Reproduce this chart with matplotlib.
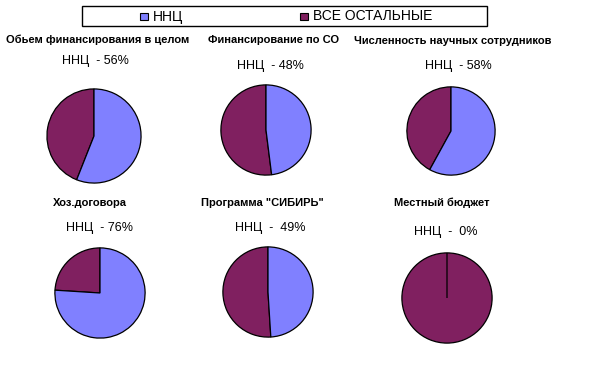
import matplotlib
matplotlib.use("Agg")
import matplotlib.pyplot as plt
from matplotlib.patches import Rectangle

plt.rcParams['font.family'] = ['Liberation Sans', 'DejaVu Sans']

titles = ["Обьем финансирования в целом", "Финансирование по СО",
          "Численность научных сотрудников", "Хоз.договора",
          "Программа \"СИБИРЬ\"", "Местный бюджет"]
nnc_share = [56, 48, 58, 76, 49, 0]
labels = ["ННЦ  - 56%", "ННЦ  - 48%", "ННЦ  - 58%", "ННЦ  - 76%",
          "ННЦ  -  49%", "ННЦ  -  0%"]
legend_names = ["ННЦ", "ВСЕ ОСТАЛЬНЫЕ"]
colors = ["#8080FF", "#802060"]

W, H = 600, 386
fig = plt.figure(figsize=(6, 3.86), dpi=100)
fig.patch.set_facecolor("white")

# layout in pixel coords (x center, y center from top, radius)
pies = [(94, 136, 48), (266, 130, 46), (451, 131, 45),
        (100, 293, 46), (268, 292, 46), (447, 298, 46)]
title_pos = [(98, 40), (274, 40), (453, 41), (90, 203), (262, 203), (442, 203)]
label_pos = [(95, 61), (270, 66), (458, 66), (100, 228), (270, 228), (446, 232)]

for i in range(6):
    cx, cy, r = pies[i]
    ax = fig.add_axes([(cx - r) / W, 1 - (cy + r) / H, 2 * r / W, 2 * r / H])
    wedges, _ = ax.pie([nnc_share[i], 100 - nnc_share[i]], colors=colors,
                       startangle=90, counterclock=False, radius=1,
                       wedgeprops=dict(edgecolor="black", linewidth=0.9))
    wedges[0].set_zorder(3)
    ax.set_xlim(-1.02, 1.02)
    ax.set_ylim(-1.02, 1.02)
    ax.set_aspect("equal")
    ax.axis("off")
    tx, ty = title_pos[i]
    fig.text(tx / W, 1 - ty / H, titles[i], ha="center", va="center",
             fontsize=8, fontweight="bold")
    lx, ly = label_pos[i]
    fig.text(lx / W, 1 - ly / H, labels[i], ha="center", va="center",
             fontsize=9)

# legend box
fig.patches.append(Rectangle((82 / W, 1 - 26 / H), (487 - 82) / W, 20 / H,
                             transform=fig.transFigure, facecolor="white",
                             edgecolor="black", linewidth=1.0))
leg_x = [(140, 153), (300, 313)]
for (mx, tx), name, c in zip(leg_x, legend_names, colors):
    fig.patches.append(Rectangle((mx / W, 1 - 20 / H), 7.5 / W, 7 / H,
                                 transform=fig.transFigure, facecolor=c,
                                 edgecolor="black", linewidth=0.8))
    fig.text(tx / W, 1 - 16.5 / H, name, ha="left", va="center", fontsize=10)

fig.savefig("out.png", dpi=100, facecolor="white")
